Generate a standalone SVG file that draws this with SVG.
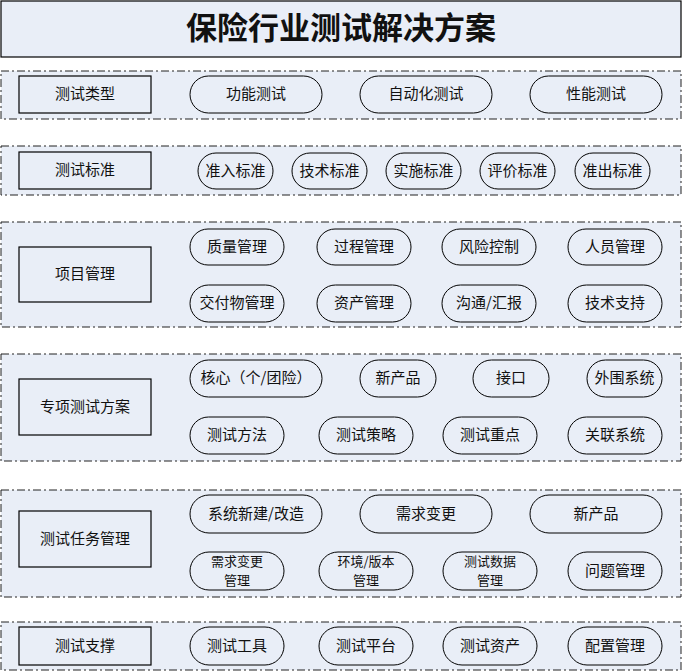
<svg xmlns="http://www.w3.org/2000/svg" width="682" height="672" viewBox="0 0 682 672">
<style>
.band{fill:#e9eef7;stroke:#222;stroke-width:1;stroke-dasharray:8 3 2 3}
.lbl{fill:#e9eef7;stroke:#000;stroke-width:1.2}
.pill{fill:#e9eef7;stroke:#000;stroke-width:1}
text{font-family:"Noto Sans CJK SC","Noto Sans CJK JP",sans-serif;font-size:15px;fill:#111;text-anchor:middle;dominant-baseline:central}
.title{font-size:31px;font-weight:bold}
.two{font-size:13px}
</style>
<rect width="682" height="672" fill="#fff"/>
<g id="title"><rect x="1" y="1" width="680" height="56" class="lbl"/><text x="341" y="25" class="title">保险行业测试解决方案</text></g>

<g id="band1"><rect x="1" y="71" width="680" height="48" class="band"/>
<g id="n-type"><rect x="19" y="76" width="132" height="37" class="lbl"/><text x="85" y="92.5">测试类型</text></g>
<g id="n-func"><rect x="190" y="76" width="132" height="37" rx="18.5" class="pill"/><text x="256" y="92.5">功能测试</text></g>
<g id="n-auto"><rect x="360" y="76" width="132" height="37" rx="18.5" class="pill"/><text x="426" y="92.5">自动化测试</text></g>
<g id="n-perf"><rect x="530" y="76" width="132" height="37" rx="18.5" class="pill"/><text x="596" y="92.5">性能测试</text></g>
</g>

<g id="band2"><rect x="1" y="146" width="680" height="49" class="band"/>
<g id="n-std"><rect x="19" y="152" width="132" height="37" class="lbl"/><text x="85" y="168.5">测试标准</text></g>
<g id="n-s1"><rect x="198" y="153" width="75" height="36" rx="18" class="pill"/><text x="235.5" y="169">准入标准</text></g>
<g id="n-s2"><rect x="292" y="153" width="75" height="36" rx="18" class="pill"/><text x="329.5" y="169">技术标准</text></g>
<g id="n-s3"><rect x="386" y="153" width="75" height="36" rx="18" class="pill"/><text x="423.5" y="169">实施标准</text></g>
<g id="n-s4"><rect x="480" y="153" width="75" height="36" rx="18" class="pill"/><text x="517.5" y="169">评价标准</text></g>
<g id="n-s5"><rect x="575" y="153" width="75" height="36" rx="18" class="pill"/><text x="612.5" y="169">准出标准</text></g>
</g>

<g id="band3"><rect x="1" y="222" width="680" height="105" class="band"/>
<g id="n-pm"><rect x="19" y="247" width="132" height="55" class="lbl"/><text x="85" y="272.5">项目管理</text></g>
<g id="n-p1"><rect x="190" y="229" width="94" height="36" rx="18" class="pill"/><text x="237" y="245">质量管理</text></g>
<g id="n-p2"><rect x="317" y="229" width="94" height="36" rx="18" class="pill"/><text x="364" y="245">过程管理</text></g>
<g id="n-p3"><rect x="442" y="229" width="94" height="36" rx="18" class="pill"/><text x="489" y="245">风险控制</text></g>
<g id="n-p4"><rect x="568" y="229" width="94" height="36" rx="18" class="pill"/><text x="615" y="245">人员管理</text></g>
<g id="n-p5"><rect x="190" y="285" width="94" height="37" rx="18.5" class="pill"/><text x="237" y="301.5">交付物管理</text></g>
<g id="n-p6"><rect x="317" y="285" width="94" height="37" rx="18.5" class="pill"/><text x="364" y="301.5">资产管理</text></g>
<g id="n-p7"><rect x="442" y="285" width="94" height="37" rx="18.5" class="pill"/><text x="489" y="301.5">沟通/汇报</text></g>
<g id="n-p8"><rect x="568" y="285" width="94" height="37" rx="18.5" class="pill"/><text x="615" y="301.5">技术支持</text></g>
</g>

<g id="band4"><rect x="1" y="354" width="680" height="107" class="band"/>
<g id="n-sp"><rect x="19" y="379" width="132" height="56" class="lbl"/><text x="85" y="405">专项测试方案</text></g>
<g id="n-c1"><rect x="190" y="360" width="132" height="37" rx="18.5" class="pill"/><text x="256" y="376.5">核心（个/团险）</text></g>
<g id="n-c2"><rect x="360" y="360" width="76" height="37" rx="18.5" class="pill"/><text x="398" y="376.5">新产品</text></g>
<g id="n-c3"><rect x="473" y="360" width="76" height="37" rx="18.5" class="pill"/><text x="511" y="376.5">接口</text></g>
<g id="n-c4"><rect x="587" y="360" width="75" height="37" rx="18.5" class="pill"/><text x="624.5" y="376.5">外围系统</text></g>
<g id="n-c5"><rect x="190" y="417" width="94" height="37" rx="18.5" class="pill"/><text x="237" y="433.5">测试方法</text></g>
<g id="n-c6"><rect x="319" y="417" width="94" height="37" rx="18.5" class="pill"/><text x="366" y="433.5">测试策略</text></g>
<g id="n-c7"><rect x="443" y="417" width="94" height="37" rx="18.5" class="pill"/><text x="490" y="433.5">测试重点</text></g>
<g id="n-c8"><rect x="568" y="417" width="94" height="37" rx="18.5" class="pill"/><text x="615" y="433.5">关联系统</text></g>
</g>

<g id="band5"><rect x="1" y="490" width="680" height="107" class="band"/>
<g id="n-tm"><rect x="19" y="511" width="132" height="56" class="lbl"/><text x="85" y="537">测试任务管理</text></g>
<g id="n-t1"><rect x="190" y="495" width="132" height="38" rx="19" class="pill"/><text x="256" y="512">系统新建/改造</text></g>
<g id="n-t2"><rect x="360" y="495" width="132" height="38" rx="19" class="pill"/><text x="426" y="512">需求变更</text></g>
<g id="n-t3"><rect x="530" y="495" width="132" height="38" rx="19" class="pill"/><text x="596" y="512">新产品</text></g>
<g id="n-t4"><rect x="190" y="552" width="94" height="38" rx="19" class="pill"/><text x="237" y="560" class="two">需求变更</text><text x="237" y="579.5" class="two">管理</text></g>
<g id="n-t5"><rect x="319" y="552" width="94" height="38" rx="19" class="pill"/><text x="366" y="560" class="two">环境/版本</text><text x="366" y="579.5" class="two">管理</text></g>
<g id="n-t6"><rect x="443" y="552" width="94" height="38" rx="19" class="pill"/><text x="490" y="560" class="two">测试数据</text><text x="490" y="579.5" class="two">管理</text></g>
<g id="n-t7"><rect x="568" y="552" width="94" height="38" rx="19" class="pill"/><text x="615" y="569">问题管理</text></g>
</g>

<g id="band6"><rect x="1" y="622" width="680" height="48" class="band"/>
<g id="n-sup"><rect x="19" y="627" width="132" height="38" class="lbl"/><text x="85" y="644">测试支撑</text></g>
<g id="n-u1"><rect x="190" y="627" width="94" height="38" rx="19" class="pill"/><text x="237" y="644">测试工具</text></g>
<g id="n-u2"><rect x="319" y="627" width="94" height="38" rx="19" class="pill"/><text x="366" y="644">测试平台</text></g>
<g id="n-u3"><rect x="443" y="627" width="94" height="38" rx="19" class="pill"/><text x="490" y="644">测试资产</text></g>
<g id="n-u4"><rect x="568" y="627" width="94" height="38" rx="19" class="pill"/><text x="615" y="644">配置管理</text></g>
</g>
<g id="connectors"/>
</svg>
